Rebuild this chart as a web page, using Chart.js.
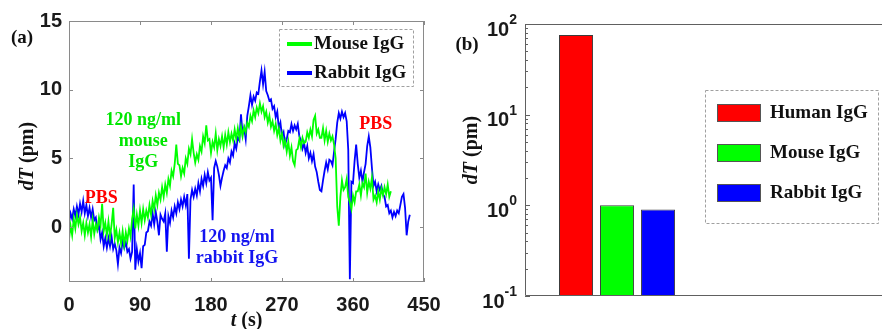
<!DOCTYPE html>
<html>
<head>
<meta charset="utf-8">
<script src="https://cdn.jsdelivr.net/npm/chart.js@4.4.1/dist/chart.umd.min.js"></script>
<style>
  body { margin: 0; background: #fff; width: 882px; height: 329px; overflow: hidden; position: relative; }
  #chartA { position: absolute; left: 0; top: 0; }
  #chartB { position: absolute; left: 440px; top: 0; }
</style>
</head>
<body>
<canvas id="chartA" width="460" height="329"></canvas>
<canvas id="chartB" width="442" height="329"></canvas>
<script>
// (a) time traces, one sample every 2 s
var dt = 2;
var mouseIgG = [
  -0.9, 0.1, -0.6, 0.6, -0.1, 0.9, 0.2, 0.7, -0.3, 0.3,
  -0.6, 0.3, -0.4, 0.2, -0.7, 0.5, -0.5, 0.2, -0.2, 0.7,
  0.1, 1.7, -0.3, 0.3, -0.6, 0.4, -0.7, 0.2, 1.4, -0.8,
  -0.2, -1.1, -0.4, -1.2, -0.3, -1.3, -0.4, -1.0, -0.1, -0.7,
  0.6, 1.3, -0.1, 0.9, 0.1, 1.2, 0.3, 1.3, 0.5, 1.2,
  0.7, 1.6, 0.9, 1.9, 1.3, 2.3, 1.6, 2.5, 2.0, 2.9,
  2.2, 3.1, 2.5, 3.5, 3.0, 4.1, 3.7, 4.6, 6.0, 4.6,
  4.5, 3.7, 4.3, 3.9, 5.0, 4.6, 5.7, 5.3, 6.4, 5.4,
  4.7, 5.3, 4.9, 5.9, 5.5, 6.6, 6.1, 7.4, 6.3, 6.4,
  5.4, 6.2, 5.8, 6.8, 5.6, 6.4, 5.9, 6.6, 5.8, 6.7,
  6.0, 6.9, 6.2, 6.8, 6.3, 7.1, 6.4, 7.2, 6.5, 7.3,
  6.6, 7.3, 6.9, 7.6, 7.3, 8.1, 7.7, 8.5, 8.0, 8.7,
  8.3, 9.0, 8.4, 8.8, 8.0, 8.4, 7.6, 8.1, 7.3, 7.7,
  7.0, 7.5, 6.7, 7.2, 6.3, 6.8, 5.9, 6.3, 5.5, 6.2,
  5.2, 5.8, 4.8, 4.5, 5.6, 5.7, 6.4, 5.8, 6.5, 6.1,
  6.2, 6.9, 6.5, 7.1, 6.6, 7.8, 8.1, 6.8, 7.1, 6.5,
  6.5, 7.2, 6.3, 7.0, 6.2, 6.8, 6.3, 6.6, 6.0, 5.0,
  1.5, 0.1, 2.2, 3.4, 2.7, 2.9, 3.5, 2.2, 1.8, 1.3,
  2.3, 1.8, 2.6, 2.6, 3.1, 2.3, 3.2, 2.9, 3.9, 2.5,
  3.3, 2.8, 3.6, 2.0, 2.3, 1.8, 2.6, 2.0, 2.8, 2.3,
  2.9, 2.4, 3.1, 2.2, 2.6
];
var rabbitIgG = [
  0.3, 1.0, 0.6, 1.3, 0.8, 1.5, 0.9, 1.7, 1.1, 1.9,
  1.0, 1.6, 0.8, 1.4, 0.7, 1.3, 0.5, 0.7, -0.2, 0.1,
  -0.9, -0.4, -1.4, -0.8, -1.5, -0.8, -1.4, -0.7, -1.6, -1.2,
  -1.7, -2.7, -1.5, -1.9, -1.0, -1.5, -1.1, -1.8, -1.6, -2.3,
  -1.8, 3.1, -3.1, -1.6, -2.5, -1.9, -3.0, -1.4, -1.3, -0.4,
  -0.3, 0.4, 0.1, 1.0, 0.2, 1.1, 0.4, -0.6, 0.9, 0.6,
  0.4, 1.0, -1.8, 0.8, 0.3, 1.2, 0.7, 1.5, 1.0, 1.8,
  1.3, 2.0, 1.5, 2.2, 1.6, 2.4, -2.3, 2.0, 2.7, 2.2,
  2.8, 2.3, 3.2, 2.6, 3.5, 3.0, 3.8, 3.2, 4.0, 3.4,
  3.6, 0.5, 4.3, 4.8, 4.4, 3.8, 3.0, 3.6, 4.1, 4.5,
  4.3, 5.0, 4.7, 5.5, 5.2, 6.1, 5.7, 6.5, 6.3, 8.2,
  6.8, 7.2, 6.4, 8.1, 8.8, 9.6, 8.9, 9.5, 9.2, 9.8,
  9.7, 10.6, 11.4, 10.4, 11.3, 9.9, 9.6, 9.2, 9.3, 8.6,
  8.8, 8.0, 8.4, 7.2, 7.6, 6.6, 6.9, 6.0, 6.4, 7.0,
  6.9, 7.5, 7.0, 7.4, 7.1, 7.5, 6.6, 6.3, 5.7, 6.1,
  5.4, 5.9, 5.0, 5.4, 4.8, 5.3, 4.4, 4.0, 3.3, 2.7,
  2.6, 3.4, 4.1, 4.7, 4.2, 4.9, 4.8, 4.5, 5.5, 6.4,
  7.6, 8.3, 7.9, 8.4, 8.0, 8.3, 7.7, 5.6, -3.8, 3.3,
  3.2, 4.8, 6.0, 4.6, 3.6, 4.1, 3.3, 4.0, 4.6, 5.9,
  6.6, 5.8, 4.3, 3.0, 3.3, 2.6, 3.1, 2.7, 3.0, 2.4,
  2.2, 1.5, 1.6, 1.0, 1.2, 0.7, 1.1, 0.8, 1.2, 1.0,
  1.6, 2.2, 2.4, 1.4, -0.6, 0.4, 0.9
];
var timeTicks = [0, 90, 180, 270, 360, 450];
var dTTicks = [0, 5, 10, 15];

// (b) bar values
var antibodies = ['Human IgG', 'Mouse IgG', 'Rabbit IgG'];
var peakShift = [75.6, 1.0, 0.9];
var barColors = ['#ff0000', '#00ff00', '#0000ff'];
var logExponents = [-1, 0, 1, 2];

var serif = '"Liberation Serif", "Times New Roman", serif';
var sans = '"Liberation Sans", Arial, sans-serif';

function toPoints(arr) {
  var pts = [];
  for (var i = 0; i < arr.length; i++) pts.push({ x: i * dt, y: arr[i] });
  return pts;
}

// centred text made of parts, some italic
function mixedText(ctx, parts, x, y, size, color) {
  var w = 0, i, fonts = [];
  for (i = 0; i < parts.length; i++) {
    fonts[i] = (parts[i][1] ? 'italic ' : '') + 'bold ' + size + 'px ' + serif;
    ctx.font = fonts[i];
    w += ctx.measureText(parts[i][0]).width;
  }
  var cx = x - w / 2;
  ctx.fillStyle = color;
  ctx.textAlign = 'left';
  ctx.textBaseline = 'middle';
  for (i = 0; i < parts.length; i++) {
    ctx.font = fonts[i];
    ctx.fillText(parts[i][0], cx, y);
    cx += ctx.measureText(parts[i][0]).width;
  }
}

var notes = [
  { lines: ['PBS'], t: 41, v: 2.1, color: '#ff0000' },
  { lines: ['120 ng/ml', 'mouse', 'IgG'], t: 94, v: 7.8, color: '#00e600' },
  { lines: ['120 ng/ml', 'rabbit IgG'], t: 213, v: -0.75, color: '#1414f0' },
  { lines: ['PBS'], t: 389, v: 7.5, color: '#ff0000' }
];

var panelA = {
  id: 'panelA',
  afterDraw: function(chart) {
    var ctx = chart.ctx, a = chart.chartArea;
    var xs = chart.scales.x, ys = chart.scales.y;
    ctx.save();
    // box + inward ticks
    ctx.strokeStyle = '#8a8a8a';
    ctx.lineWidth = 1;
    ctx.strokeRect(a.left + 0.5, a.top + 0.5, a.right - a.left - 1, a.bottom - a.top - 1);
    ctx.beginPath();
    timeTicks.forEach(function(t) {
      var px = Math.round(xs.getPixelForValue(t)) + 0.5;
      ctx.moveTo(px, a.bottom); ctx.lineTo(px, a.bottom - 4);
      ctx.moveTo(px, a.top); ctx.lineTo(px, a.top + 4);
    });
    dTTicks.forEach(function(v) {
      var py = Math.round(ys.getPixelForValue(v)) + 0.5;
      ctx.moveTo(a.left, py); ctx.lineTo(a.left + 4, py);
      ctx.moveTo(a.right, py); ctx.lineTo(a.right - 4, py);
    });
    ctx.stroke();

    // annotations
    ctx.font = 'bold 18px ' + serif;
    ctx.textAlign = 'center';
    ctx.textBaseline = 'middle';
    notes.forEach(function(n) {
      ctx.fillStyle = n.color;
      var y0 = ys.getPixelForValue(n.v);
      n.lines.forEach(function(s, k) {
        ctx.fillText(s, xs.getPixelForValue(n.t), y0 + k * 21);
      });
    });

    // legend
    ctx.setLineDash([3, 2]);
    ctx.strokeStyle = '#a0a0a0';
    ctx.strokeRect(279.5, 29.5, 134, 57);
    ctx.setLineDash([]);
    chart.data.datasets.forEach(function(ds, i) {
      var y = 44 + i * 29;
      ctx.strokeStyle = ds.borderColor;
      ctx.lineWidth = 4;
      ctx.beginPath(); ctx.moveTo(287, y); ctx.lineTo(312, y); ctx.stroke();
      ctx.fillStyle = '#111';
      ctx.font = 'bold 19px ' + serif;
      ctx.textAlign = 'left';
      ctx.fillText(ds.label, 314, y);
    });

    // panel label and axis titles
    mixedText(ctx, [['(a)', false]], 22, 38, 19, '#111');
    mixedText(ctx, [['t', true], [' (s)', false]], (a.left + a.right) / 2, 321, 20, '#111');
    ctx.translate(28, 156);
    ctx.rotate(-Math.PI / 2);
    mixedText(ctx, [['dT', true], [' (pm)', false]], 0, 0, 20, '#111');
    ctx.restore();
  }
};

new Chart(document.getElementById('chartA'), {
  type: 'line',
  data: {
    datasets: [
      { label: 'Mouse IgG', data: toPoints(mouseIgG), borderColor: '#00ff00', borderWidth: 1.8, pointRadius: 0, tension: 0 },
      { label: 'Rabbit IgG', data: toPoints(rabbitIgG), borderColor: '#0000ff', borderWidth: 1.8, pointRadius: 0, tension: 0 }
    ]
  },
  options: {
    responsive: false,
    animation: false,
    events: [],
    layout: { padding: { left: 0, top: 21, right: 36, bottom: 0 } },
    plugins: { legend: { display: false }, tooltip: { enabled: false } },
    scales: {
      x: {
        type: 'linear', min: 0, max: 450,
        afterBuildTicks: function(s) { s.ticks = timeTicks.map(function(v) { return { value: v }; }); },
        afterFit: function(s) { s.height = 47; },
        grid: { display: false, drawTicks: false },
        border: { display: false },
        ticks: { font: { family: sans, size: 20, weight: 'bold' }, color: '#1a1a1a', padding: 11, maxRotation: 0, autoSkip: false }
      },
      y: {
        type: 'linear', min: -4, max: 15,
        afterBuildTicks: function(s) { s.ticks = dTTicks.map(function(v) { return { value: v }; }); },
        afterFit: function(s) { s.width = 69; },
        grid: { display: false, drawTicks: false },
        border: { display: false },
        ticks: { font: { family: sans, size: 20, weight: 'bold' }, color: '#1a1a1a', padding: 7 }
      }
    }
  },
  plugins: [panelA]
});

var panelB = {
  id: 'panelB',
  afterDraw: function(chart) {
    var ctx = chart.ctx, a = chart.chartArea, ys = chart.scales.y;
    ctx.save();
    ctx.strokeStyle = '#606060';
    ctx.lineWidth = 1;
    ctx.beginPath();
    ctx.moveTo(chart.width, a.top + 0.5); ctx.lineTo(a.left + 0.5, a.top + 0.5);
    ctx.lineTo(a.left + 0.5, a.bottom - 0.5); ctx.lineTo(chart.width, a.bottom - 0.5);
    // log ticks on the left axis
    logExponents.forEach(function(e) {
      for (var m = 1; m <= 9; m++) {
        var v = m * Math.pow(10, e);
        if (v > 100.0001) break;
        var py = Math.round(ys.getPixelForValue(v)) + 0.5;
        ctx.moveTo(a.left, py); ctx.lineTo(a.left + (m === 1 ? 5 : 3), py);
      }
    });
    ctx.stroke();

    // 10^k labels
    ctx.fillStyle = '#1a1a1a';
    ctx.textBaseline = 'middle';
    logExponents.forEach(function(e) {
      var py = ys.getPixelForValue(Math.pow(10, e));
      var ex = String(e);
      ctx.font = 'bold 14px ' + sans;
      var ew = ctx.measureText(ex).width;
      var right = a.left - 8;
      ctx.textAlign = 'left';
      ctx.fillText(ex, right - ew, py - 4);
      ctx.font = 'bold 20px ' + sans;
      ctx.textAlign = 'right';
      ctx.fillText('10', right - ew, py + 6);
    });

    // legend
    ctx.setLineDash([3, 2]);
    ctx.strokeStyle = '#a0a0a0';
    ctx.strokeRect(265.5, 90.5, 173, 133);
    ctx.setLineDash([]);
    antibodies.forEach(function(name, i) {
      var y = 113 + i * 40;
      ctx.fillStyle = barColors[i];
      ctx.fillRect(277, y - 9, 44, 18);
      ctx.strokeStyle = '#555';
      ctx.strokeRect(277.5, y - 8.5, 43, 17);
      ctx.fillStyle = '#111';
      ctx.font = 'bold 19px ' + serif;
      ctx.textAlign = 'left';
      ctx.textBaseline = 'middle';
      ctx.fillText(name, 330, y);
    });

    mixedText(ctx, [['(b)', false]], 27, 45, 19, '#111');
    ctx.translate(32, 150);
    ctx.rotate(-Math.PI / 2);
    mixedText(ctx, [['dT', true], [' (pm)', false]], 0, 0, 20, '#111');
    ctx.restore();
  }
};

new Chart(document.getElementById('chartB'), {
  type: 'bar',
  data: {
    datasets: [{
      label: 'dT',
      data: antibodies.map(function(n, i) { return { x: i + 1, y: peakShift[i] }; }),
      backgroundColor: barColors,
      borderColor: '#3c3c3c',
      borderWidth: 1,
      barPercentage: 0.83,
      categoryPercentage: 1
    }]
  },
  options: {
    responsive: false,
    animation: false,
    events: [],
    layout: { padding: { left: 85, top: 24, right: 0, bottom: 33 } },
    plugins: { legend: { display: false }, tooltip: { enabled: false } },
    scales: {
      x: { type: 'linear', min: -0.244, max: 8.46, offset: false, display: false },
      y: { type: 'logarithmic', min: 0.1, max: 100, display: false }
    }
  },
  plugins: [panelB]
});
</script>
</body>
</html>
